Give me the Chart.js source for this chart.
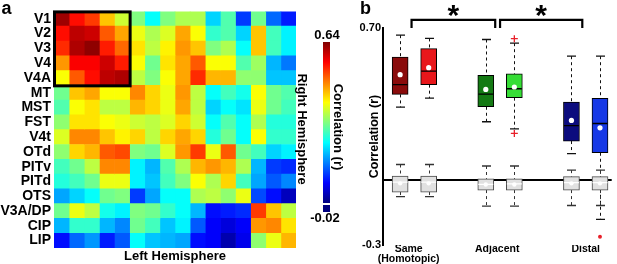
<!DOCTYPE html>
<html><head><meta charset="utf-8">
<script src="https://cdn.jsdelivr.net/npm/chart.js@4.4.1/dist/chart.umd.min.js"></script>
<style>
html,body{margin:0;padding:0;background:#fff;width:617px;height:264px;overflow:hidden}
#ca{position:absolute;left:0;top:0}
#cb{position:absolute;left:345px;top:0}
</style></head><body>
<canvas id="ca" width="345" height="264"></canvas>
<canvas id="cb" width="272" height="264"></canvas>
<script>
// ---------- Panel a data ----------
const areas = ['V1','V2','V3','V4','V4A','MT','MST','FST','V4t','OTd','PITv','PITd','OTS','V3A/DP','CIP','LIP'];
const earlyAreas = ['V1','V2','V3','V4','V4A'];
const colorMin = -0.02, colorMax = 0.64;
const colorTickLabels = ['0.64', '-0.02'];
const corr = [
 [0.62,0.55,0.52,0.43,0.36,0.31,0.23,0.31,0.34,0.34,0.20,0.28,0.10,0.30,0.13,0.08],
 [0.55,0.60,0.59,0.50,0.45,0.38,0.34,0.37,0.45,0.39,0.26,0.28,0.20,0.43,0.27,0.22],
 [0.53,0.61,0.63,0.54,0.49,0.41,0.35,0.40,0.46,0.43,0.31,0.34,0.23,0.43,0.27,0.22],
 [0.46,0.56,0.56,0.59,0.54,0.39,0.30,0.41,0.45,0.50,0.39,0.39,0.28,0.33,0.18,0.14],
 [0.39,0.50,0.55,0.60,0.61,0.35,0.31,0.39,0.45,0.53,0.44,0.44,0.32,0.32,0.19,0.19],
 [0.30,0.43,0.45,0.39,0.39,0.47,0.42,0.38,0.46,0.35,0.23,0.27,0.24,0.39,0.30,0.28],
 [0.28,0.39,0.41,0.35,0.35,0.44,0.42,0.38,0.45,0.35,0.20,0.23,0.21,0.38,0.30,0.27],
 [0.32,0.41,0.41,0.39,0.38,0.36,0.35,0.37,0.42,0.36,0.23,0.28,0.23,0.34,0.25,0.25],
 [0.37,0.47,0.47,0.43,0.40,0.42,0.35,0.42,0.45,0.42,0.25,0.30,0.23,0.39,0.26,0.26],
 [0.32,0.42,0.44,0.50,0.51,0.31,0.30,0.37,0.46,0.52,0.38,0.50,0.30,0.27,0.20,0.22],
 [0.27,0.30,0.35,0.47,0.47,0.22,0.18,0.28,0.34,0.44,0.46,0.44,0.34,0.18,0.10,0.09],
 [0.25,0.27,0.30,0.38,0.38,0.22,0.19,0.27,0.31,0.39,0.34,0.42,0.27,0.17,0.12,0.15],
 [0.17,0.20,0.23,0.30,0.31,0.10,0.17,0.23,0.23,0.34,0.35,0.32,0.38,0.11,0.07,0.02],
 [0.30,0.38,0.35,0.24,0.22,0.31,0.30,0.26,0.23,0.18,0.07,0.08,0.09,0.52,0.43,0.35],
 [0.18,0.26,0.26,0.18,0.15,0.30,0.27,0.19,0.22,0.12,0.06,0.04,0.06,0.46,0.47,0.41],
 [0.07,0.13,0.16,0.08,0.12,0.23,0.19,0.18,0.17,0.07,0.06,0.01,0.05,0.32,0.38,0.44]
];

// ---------- Panel b data ----------
const groupLabels = [['Same','(Homotopic)'], 'Adjacent', 'Distal'];
const groupCenters = [0.3, 3.4, 6.5];
const boxPos = [0, 1, 3, 4, 6, 7];
const boxColors = ['#8a0b0b','#e8171b','#147a14','#36dd36','#0c0c7e','#1638e6'];
const boxHi   = [0.667, 0.652, 0.647, 0.630, 0.570, 0.570];
const boxQ3   = [0.566, 0.605, 0.482, 0.489, 0.359, 0.376];
const boxMed  = [0.439, 0.501, 0.395, 0.420, 0.250, 0.260];
const boxMean = [0.485, 0.517, 0.417, 0.428, 0.274, 0.240];
const boxQ1   = [0.394, 0.439, 0.337, 0.379, 0.179, 0.125];
const boxLo   = [0.335, 0.377, 0.268, 0.235, 0.121, -0.182];
const nullHi   = [0.071, 0.071, 0.064, 0.064, 0.045, 0.045];
const nullQ3   = [0.018, 0.018, 0.005, 0.005, 0.015, 0.015];
const nullMed  = [-0.010, -0.010, -0.021, -0.018, -0.013, -0.013];
const nullMean = [-0.016, -0.016, -0.021, -0.021, -0.016, -0.016];
const nullQ1   = [-0.056, -0.056, -0.047, -0.047, -0.047, -0.047];
const nullLo   = [-0.077, -0.077, -0.121, -0.121, -0.118, -0.118];
const outX = [4, 4, 7];
const outY = [0.651, 0.214, -0.262];
const yTickValues = [-0.3, 0, 0.7];
const yTickText = ['-0.3', '', '0.70'];
const sigBrackets = [[0.4, 3.33], [3.5, 6.38]];

const FONT = "'Liberation Sans', Arial, Helvetica, sans-serif";

function jet(t){
  t = Math.max(0, Math.min(1, t));
  const c = x => Math.round(255 * Math.max(0, Math.min(1, 1.5 - Math.abs(x))));
  return `rgb(${c(4*t-3)},${c(4*t-2)},${c(4*t-1)})`;
}
const colorOf = v => jet((v - colorMin) / (colorMax - colorMin));

// ---------- Panel a chart ----------
const heatDatasets = areas.map((a, j) => ({
  label: a,
  data: areas.map(() => 1),
  backgroundColor: corr.map(row => colorOf(row[j])),
  borderWidth: 0,
  barPercentage: 1,
  categoryPercentage: 1
}));

const heatDeco = {
  id: 'heatDeco',
  afterDraw(chart){
    const {ctx, scales:{x, y}} = chart;
    const rowH = y.getPixelForValue(1) - y.getPixelForValue(0);
    ctx.save();
    const n = earlyAreas.length;
    const x0 = x.getPixelForValue(0), x1 = x.getPixelForValue(n);
    const y0 = y.getPixelForValue(0) - rowH/2, y1 = y.getPixelForValue(n-1) + rowH/2;
    ctx.strokeStyle = '#000'; ctx.lineWidth = 3;
    ctx.strokeRect(x0 + 0.5, y0 + 0.5, x1 - x0, y1 - y0);
    // colorbar
    const cbL = 323, cbW = 7, cbT = 42, cbB = 203;
    const g = ctx.createLinearGradient(0, cbB, 0, cbT);
    for (let i = 0; i <= 64; i++) g.addColorStop(i/64, jet(i/64));
    ctx.fillStyle = g;
    ctx.fillRect(cbL, cbT, cbW, cbB - cbT);
    ctx.fillStyle = jet(0);
    ctx.fillRect(cbL, cbB + 2, cbW, 7);
    // texts
    ctx.fillStyle = '#000';
    ctx.textAlign = 'center'; ctx.textBaseline = 'middle';
    ctx.font = `bold 13px ${FONT}`;
    ctx.fillText(colorTickLabels[0], 327, 35);
    ctx.fillText(colorTickLabels[1], 325, 218);
    ctx.fillText('Left Hemisphere', (x.left + x.right)/2, 256.5);
    ctx.save(); ctx.translate(302, 129); ctx.rotate(Math.PI/2);
    ctx.fillText('Right Hemisphere', 0, 0); ctx.restore();
    ctx.save(); ctx.translate(337.5, 127); ctx.rotate(Math.PI/2);
    ctx.fillText('Correlation (r)', 0, 0); ctx.restore();
    ctx.textAlign = 'left'; ctx.textBaseline = 'alphabetic';
    ctx.font = `bold 18px ${FONT}`;
    ctx.fillText('a', 1.5, 13.5);
    ctx.restore();
  }
};

new Chart(document.getElementById('ca'), {
  type: 'bar',
  data: { labels: areas, datasets: heatDatasets },
  options: {
    indexAxis: 'y', responsive: false, animation: false, devicePixelRatio: 1,
    layout: { padding: { left: 0, right: 49, top: 11, bottom: 16 } },
    plugins: { legend: { display: false }, tooltip: { enabled: false } },
    scales: {
      x: { type: 'linear', stacked: true, min: 0, max: areas.length, display: false },
      y: {
        stacked: true,
        grid: { display: false, drawTicks: false },
        border: { display: false },
        ticks: { color: '#000', autoSkip: false, padding: 3, font: { family: FONT, weight: 'bold', size: 14 } },
        afterFit: s => { s.width = 54; }
      }
    }
  },
  plugins: [heatDeco]
});

// ---------- Panel b chart ----------
const boxDeco = {
  id: 'boxDeco',
  beforeDatasetsDraw(chart){
    const {ctx, scales:{x, y}} = chart;
    ctx.save();
    const drawWhisk = (pos, hi, q3, q1, lo, color) => {
      pos.forEach((p, i) => {
        const px = Math.round(x.getPixelForValue(p)) + 0.5;
        ctx.strokeStyle = color; ctx.lineWidth = 1; ctx.setLineDash([3, 3]);
        ctx.beginPath();
        ctx.moveTo(px, y.getPixelForValue(hi[i])); ctx.lineTo(px, y.getPixelForValue(q3[i]));
        ctx.moveTo(px, y.getPixelForValue(q1[i])); ctx.lineTo(px, y.getPixelForValue(lo[i]));
        ctx.stroke();
        ctx.setLineDash([]); ctx.lineWidth = 1.3;
        ctx.beginPath();
        [hi[i], lo[i]].forEach(v => { const py = y.getPixelForValue(v); ctx.moveTo(px - 4.5, py); ctx.lineTo(px + 4.5, py); });
        ctx.stroke();
      });
    };
    drawWhisk(boxPos, boxHi, boxQ3, boxQ1, boxLo, '#111');
    drawWhisk(boxPos, nullHi, nullQ3, nullQ1, nullLo, '#333');
    ctx.restore();
  },
  afterDatasetDraw(chart, args){
    const {ctx, scales:{x, y}} = chart;
    const ds = chart.data.datasets[args.index];
    if (!ds.medians) return;
    ctx.save();
    ctx.strokeStyle = ds.medianColor; ctx.lineWidth = 1.3;
    ctx.beginPath();
    boxPos.forEach((p, i) => {
      const px = x.getPixelForValue(p), py = y.getPixelForValue(ds.medians[i]);
      ctx.moveTo(px - 7.5, py); ctx.lineTo(px + 7.5, py);
    });
    ctx.stroke();
    ctx.restore();
  },
  afterDraw(chart){
    const {ctx, scales:{x, y}} = chart;
    ctx.save();
    ctx.strokeStyle = '#000'; ctx.lineWidth = 2.2;
    ctx.fillStyle = '#000';
    const fs = 30;
    ctx.font = `bold ${fs}px ${FONT}`;
    ctx.textAlign = 'center'; ctx.textBaseline = 'alphabetic';
    sigBrackets.forEach(([a, b]) => {
      const xa = x.getPixelForValue(a), xb = x.getPixelForValue(b);
      const yb = y.getPixelForValue(0.737), yl = y.getPixelForValue(0.700);
      ctx.beginPath();
      ctx.moveTo(xa, yl); ctx.lineTo(xa, yb); ctx.lineTo(xb, yb); ctx.lineTo(xb, yl);
      ctx.stroke();
      const sy = y.getPixelForValue(0.79);
      ctx.fillText('*', (xa + xb)/2, sy + 0.553 * fs);
    });
    ctx.textAlign = 'left';
    ctx.font = `bold 18px ${FONT}`;
    ctx.fillText('b', 15, 13.5);
    ctx.restore();
  }
};

new Chart(document.getElementById('cb'), {
  type: 'bar',
  data: {
    datasets: [
      { type: 'scatter', data: outX.map((p, i) => ({x: p, y: outY[i]})),
        pointStyle: ['cross','cross','circle'], pointRadius: [3.5, 3.5, 1.3],
        borderColor: '#e8202a', backgroundColor: '#e8202a', pointBorderWidth: 1.3 },
      { type: 'scatter', data: boxPos.map((p, i) => ({x: p, y: boxMean[i]})),
        pointRadius: 2.6, backgroundColor: '#fff', borderWidth: 0, pointBorderWidth: 0 },
      { type: 'scatter', data: boxPos.map((p, i) => ({x: p, y: nullMean[i]})),
        pointRadius: 2.2, backgroundColor: '#fff', borderWidth: 0, pointBorderWidth: 0 },
      { type: 'bar', grouped: false, barThickness: 16,
        data: boxPos.map((p, i) => ({x: p, y: [nullQ1[i], nullQ3[i]]})),
        backgroundColor: '#e1e1e1', borderColor: '#4a4a4a', borderWidth: 1, borderSkipped: false,
        medians: nullMed, medianColor: '#ffffff' },
      { type: 'bar', grouped: false, barThickness: 16,
        data: boxPos.map((p, i) => ({x: p, y: [boxQ1[i], boxQ3[i]]})),
        backgroundColor: boxColors, borderColor: '#000', borderWidth: 1, borderSkipped: false,
        medians: boxMed, medianColor: '#000' }
    ]
  },
  options: {
    responsive: false, animation: false, devicePixelRatio: 1,
    layout: { padding: { left: 0, right: 0, top: 28, bottom: 0 } },
    plugins: { legend: { display: false }, tooltip: { enabled: false } },
    scales: {
      x: {
        type: 'linear', min: -0.6, max: 7.41, offset: false,
        grid: { display: false, drawTicks: false, offset: false },
        border: { display: false },
        afterBuildTicks: s => { s.ticks = groupCenters.map(v => ({ value: v })); },
        ticks: {
          autoSkip: false, maxRotation: 0, padding: -1, color: '#000',
          font: { family: FONT, weight: 'bold', size: 10.5, lineHeight: 0.95 },
          callback: (v, i) => groupLabels[i]
        },
        afterFit: s => { s.height = 19; }
      },
      y: {
        type: 'linear', min: -0.3, max: 0.7,
        afterBuildTicks: s => { s.ticks = yTickValues.map(v => ({ value: v })); },
        grid: {
          drawTicks: false, lineWidth: 2,
          color: c => (c.tick && c.tick.value === 0) ? '#000' : 'rgba(0,0,0,0)'
        },
        border: { display: true, color: '#000', width: 2 },
        ticks: {
          color: '#000', padding: 2,
          font: { family: FONT, weight: 'bold', size: 11 },
          callback: (v, i) => yTickText[i]
        },
        title: {
          display: true, text: 'Correlation (r)', color: '#000',
          font: { family: FONT, weight: 'bold', size: 12.5 },
          padding: { top: 22, bottom: 0 }
        },
        afterFit: s => { s.width = 38; }
      }
    }
  },
  plugins: [boxDeco]
});
</script>
</body></html>
